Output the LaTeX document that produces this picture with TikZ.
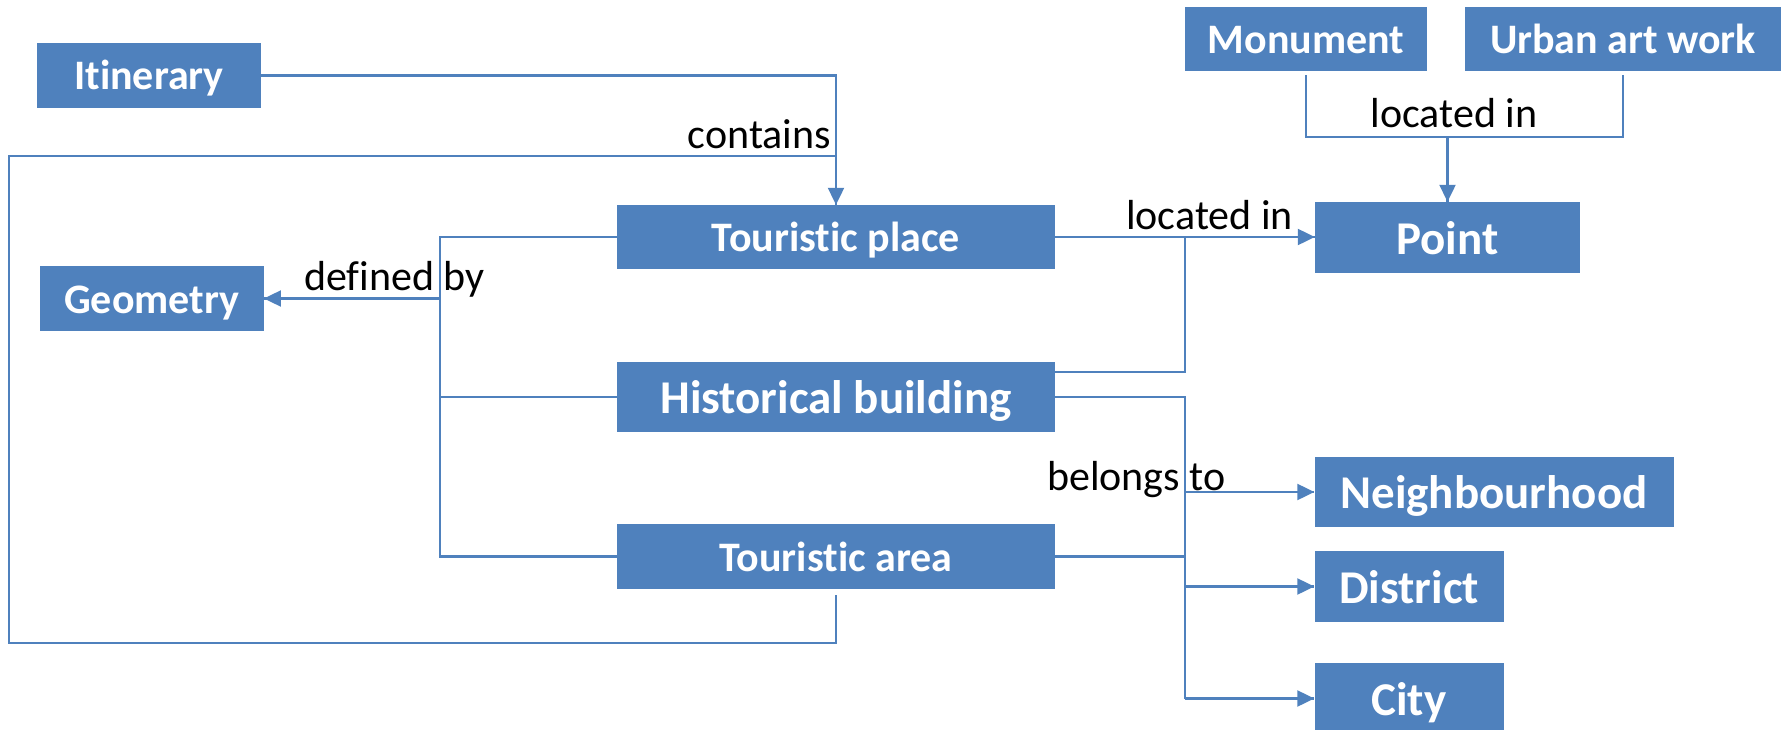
\documentclass[tikz,border=0pt]{standalone}
\usepackage{fontspec}
\setmainfont{Carlito}[Ligatures = NoCommon]
\usepackage{tikz}
\usetikzlibrary{arrows.meta}
\usetikzlibrary{decorations.markings}
\tikzset{->/.style = {decoration={markings,
                                  mark=at position 1 with {\arrow{Triangle[length=17pt, width=16pt]}}},
                      postaction={decorate}}}
\tikzset{box/.style = {fill = mblue, text = white, inner sep = 0, text height = 29pt, text depth = 0pt,
                       font = \bfseries\fontsize{42}{50}\selectfont, minimum height = 65}}
\tikzset{bigbox/.style = {box, text height = 33pt, font = \bfseries\fontsize{47}{56}\selectfont, minimum height = 71}}
\tikzset{lbl/.style = {inner sep = 0, font = \fontsize{42}{50}\selectfont}}
\tikzset{conn/.style = {mblue, line width = 2.2pt}}
\definecolor{mblue}{rgb}{0.31, 0.506, 0.741}

\begin{document}
\begin{tikzpicture}[x = 1pt, y = -1pt]
    \useasboundingbox (0, 0) rectangle (1787, 730);

    \node [box, minimum width = 224] (itin) at (149, 75.5) {Itinerary};
    \node [box, minimum width = 242, minimum height = 64] (monu) at (1306, 39) {Monument};
    \node [box, minimum width = 316, minimum height = 64] (urban) at (1623, 39) {Urban art work};
    \node [box, minimum width = 438, minimum height = 64] (tplace) at (836, 237) {Touristic place};
    \node [bigbox, minimum width = 265] (point) at (1447.5, 237.5) {Point};
    \node [box, minimum width = 224] (geom) at (151.75, 298.5) {Geometry};
    \node [bigbox, minimum width = 438, minimum height = 70] (hist) at (836, 397) {Historical building};
    \node [box, minimum width = 438] (tarea) at (836, 556.5) {Touristic area};
    \node [bigbox, minimum width = 359, minimum height = 70] (neigh) at (1494, 492) {Neighbourhood};
    \node [bigbox, minimum width = 189] (district) at (1409, 586.5) {District};
    \node [bigbox, minimum width = 189] (city) at (1409, 698.5) {City};

    \coordinate (defbus) at (440, 0);
    \coordinate (locbus) at (1185, 0);
    \coordinate (loopleft) at (9, 156);
    \coordinate (loopbot) at (0, 643);
    \coordinate (locjoin) at (0, 137);

    % contains
    \draw [conn, ->] (itin.east) -| (tplace.north);
    \draw [conn] ([yshift=-6pt]tarea.south) -- (tarea.south |- loopbot) -| (loopleft) -- (loopleft -| tplace.north);

    % defined by
    \draw [conn] (tplace.west) -| (defbus |- tarea.west) -- (tarea.west);
    \draw [conn] (hist.west) -- (hist.west -| defbus);
    \draw [conn, ->] (geom.east -| defbus) -- (geom.east);

    % located in
    \draw [conn, ->] (tplace.east) -- (tplace.east -| point.west);
    \draw [conn] ([yshift=25pt]hist.east) -| (locbus |- tplace.east);
    \draw [conn] ([yshift=-4pt]monu.south) |- (urban.south |- locjoin) -- ([yshift=-4pt]urban.south);
    \draw [conn, ->] (point.north |- locjoin) -- (point.north);

    % belongs to
    \draw [conn] (hist.east) -| (locbus |- city.west);
    \draw [conn] (tarea.east) -- (tarea.east -| locbus);
    \draw [conn, ->] (locbus |- neigh.west) -- (neigh.west);
    \draw [conn, ->] (locbus |- district.west) -- (district.west);
    \draw [conn, ->] (locbus |- city.west) -- (city.west);

    \node [lbl, anchor = base east] (contains) at (831, 149) {contains};
    \node [lbl, anchor = base west] (definedby) at (304, 290) {defined by};
    \node [lbl, anchor = base west] (locin1) at (1370.5, 128) {located in};
    \node [lbl, anchor = base west] (locin2) at (1126, 229) {located in};
    \node [lbl, anchor = base west] (belongs) at (1047, 490) {belongs to};
  \end{tikzpicture}
\end{document}
